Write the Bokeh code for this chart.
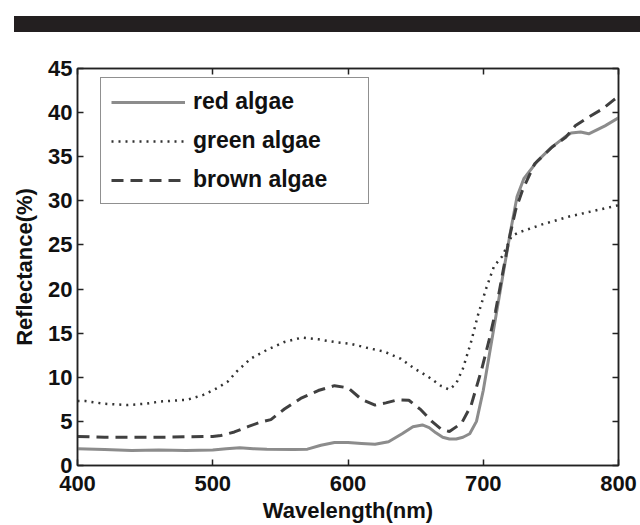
from bokeh.plotting import figure
from bokeh.models import (Range1d, LinearAxis, FixedTicker, Legend, LegendItem,
                          Div, CustomJSTickFormatter)
from bokeh.layouts import column
from bokeh.embed import file_html
from bokeh.resources import INLINE

# ---- data ----
red_wl = [400, 420, 440, 460, 480, 500, 510, 520, 530, 540, 560, 570, 580, 590, 600,
          610, 620, 630, 640, 648, 655, 660, 665, 670, 675, 680, 685, 690, 695, 700,
          705, 710, 715, 720, 725, 730, 740, 750, 760, 765, 772, 778, 790, 800]
red_val = [1.9, 1.8, 1.7, 1.75, 1.7, 1.75, 1.9, 2.0, 1.9, 1.85, 1.8, 1.85, 2.3, 2.6, 2.6,
           2.5, 2.4, 2.7, 3.6, 4.4, 4.6, 4.3, 3.7, 3.2, 3.0, 3.0, 3.2, 3.6, 5.0, 8.5,
           13.0, 17.5, 22.0, 26.4, 30.5, 32.5, 34.5, 36.0, 37.2, 37.7, 37.8, 37.6, 38.5, 39.4]

green_wl = [400, 406, 420, 437, 450, 461, 481, 493, 503, 511, 518, 528, 540, 553, 566,
            578, 590, 602, 615, 627, 639, 649, 659, 669, 675, 680, 685, 691, 696, 702,
            708, 714, 721, 726, 743, 763, 780, 800]
green_val = [7.3, 7.3, 7.0, 6.85, 7.0, 7.25, 7.45, 8.0, 8.75, 9.5, 10.7, 12.1, 13.1, 14.0, 14.5,
             14.3, 14.0, 13.8, 13.3, 12.9, 12.1, 11.0, 10.1, 9.0, 8.6, 9.3, 11.0, 14.0, 17.0, 20.0,
             22.6, 23.7, 26.0, 26.4, 27.3, 28.2, 28.8, 29.5]

brown_wl = [400, 420, 440, 460, 480, 500, 506, 516, 526, 535, 543, 553, 565, 578, 590,
            600, 610, 620, 628, 637, 645, 654, 662, 669, 675, 684, 691, 699, 704, 709,
            714, 719, 724, 729, 738, 751, 761, 768, 778, 788, 797, 800]
brown_val = [3.3, 3.2, 3.2, 3.2, 3.25, 3.3, 3.4, 3.8, 4.4, 4.9, 5.2, 6.4, 7.6, 8.5, 9.05,
             8.8, 7.5, 6.85, 7.1, 7.45, 7.4, 6.3, 5.0, 4.1, 3.85, 4.8, 6.8, 11.0, 14.0, 17.4,
             21.5, 25.6, 29.0, 31.2, 34.2, 36.1, 37.2, 38.5, 39.5, 40.4, 41.5, 41.8]

series_names = ["red algae", "green algae", "brown algae"]
x_ticks = [400, 500, 600, 700, 800]
y_ticks = [0, 5, 10, 15, 20, 25, 30, 35, 40, 45]

FONT = "Liberation Sans"
FS = "22px"

p = figure(width=640, height=493, output_backend="svg", toolbar_location=None,
           x_range=Range1d(400, 800), y_range=Range1d(0, 45),
           min_border_left=77, min_border_right=22, min_border_top=36, min_border_bottom=57)
p.background_fill_color = "white"
p.border_fill_color = "white"
p.grid.visible = False
p.outline_line_color = "#222222"
p.outline_line_width = 1.5

for ax in (p.xaxis[0], p.yaxis[0]):
    ax.major_label_text_font = FONT
    ax.major_label_text_font_size = FS
    ax.major_label_text_font_style = "bold"
    ax.major_label_text_color = "#111111"
    ax.axis_label_text_font = FONT
    ax.axis_label_text_font_size = FS
    ax.axis_label_text_font_style = "bold"
    ax.axis_label_text_color = "#111111"
    ax.major_tick_in = 6
    ax.major_tick_out = 0
    ax.minor_tick_in = 0
    ax.minor_tick_out = 0
    ax.axis_line_color = "#222222"
    ax.axis_line_width = 1.5
    ax.major_tick_line_color = "#222222"
    ax.major_tick_line_width = 1.5

p.xaxis[0].ticker = FixedTicker(ticks=x_ticks)
p.yaxis[0].ticker = FixedTicker(ticks=y_ticks)
p.xaxis[0].axis_label = "Wavelength(nm)"
p.yaxis[0].axis_label = "Reflectance(%)"
p.xaxis[0].major_label_standoff = 10
p.xaxis[0].axis_label_standoff = 4
p.yaxis[0].major_label_standoff = 5
p.yaxis[0].axis_label_standoff = 8

blank = CustomJSTickFormatter(code="return ''")
for side, tk in (("above", x_ticks), ("right", y_ticks)):
    ax = LinearAxis(ticker=FixedTicker(ticks=tk), formatter=blank)
    ax.major_tick_in = 6
    ax.major_tick_out = 0
    ax.minor_tick_in = 0
    ax.minor_tick_out = 0
    ax.major_label_standoff = 0
    ax.axis_line_color = "#222222"
    ax.axis_line_width = 1.5
    ax.major_tick_line_color = "#222222"
    ax.major_tick_line_width = 1.5
    p.add_layout(ax, side)

r_red = p.line(red_wl, red_val, line_color="#8c8c8c", line_width=3)
r_green = p.line(green_wl, green_val, line_color="#333333", line_width=2.5,
                 line_dash="2 5")
r_brown = p.line(brown_wl, brown_val, line_color="#404040", line_width=3,
                 line_dash="12 7")

legend = Legend(items=[LegendItem(label=series_names[0], renderers=[r_red]),
                       LegendItem(label=series_names[1], renderers=[r_green]),
                       LegendItem(label=series_names[2], renderers=[r_brown])],
                location=(23, 261))
legend.label_text_font = FONT
legend.label_text_font_size = "23px"
legend.label_text_font_style = "bold"
legend.label_text_color = "#111111"
legend.glyph_width = 74
legend.glyph_height = 22
legend.label_height = 22
legend.label_standoff = 8
legend.label_width = 165
legend.spacing = 12
legend.padding = 10
legend.margin = 0
legend.border_line_color = "#222222"
legend.border_line_width = 1.5
legend.background_fill_alpha = 1.0
p.add_layout(legend, "center")

bar = Div(width=626, height=16, margin=(16, 0, 0, 14),
          styles={"background-color": "#231f20"})

layout = column(bar, p, spacing=0)
open("out.html", "w").write(file_html(layout, INLINE))
